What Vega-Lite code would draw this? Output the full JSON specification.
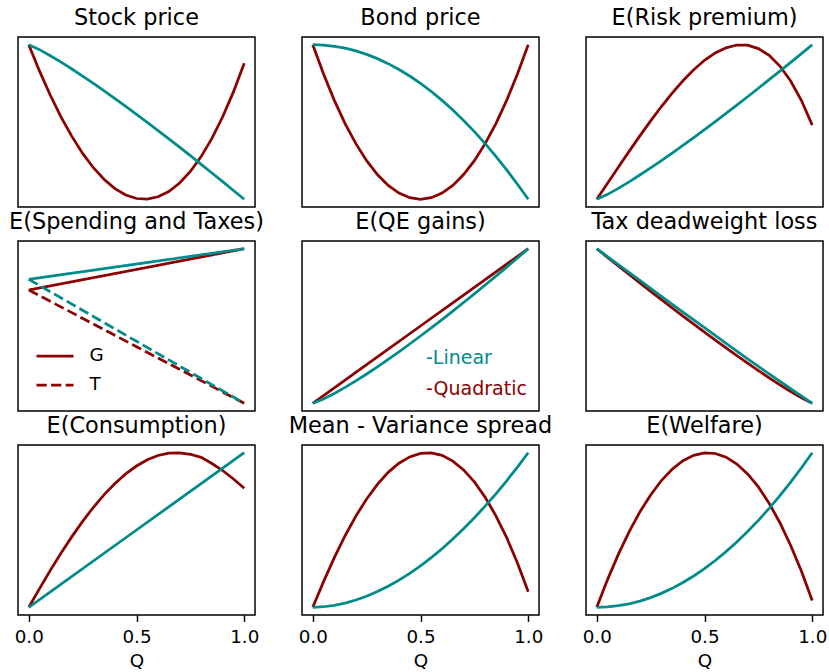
{
  "$schema": "https://vega.github.io/schema/vega-lite/v6.json",
  "padding": {"left": 8, "top": 5, "right": 5, "bottom": 5},
  "autosize": {"type": "pad"},
  "config": {
    "font": "DejaVu Sans",
    "view": {"stroke": "black", "strokeWidth": 1.47},
    "title": {"fontSize": 22.4, "fontWeight": "normal", "font": "DejaVu Sans", "color": "black", "baseline": "alphabetic", "offset": 8, "frame": "group", "anchor": "middle"},
    "axis": {"domain": false, "grid": false, "ticks": true, "tickColor": "black", "tickWidth": 1.47, "tickSize": 6.4, "labelFont": "DejaVu Sans", "labelFontSize": 18.3, "labelColor": "black", "labelPadding": 7, "labelFlush": false, "titleFont": "DejaVu Sans", "titleFontSize": 18.3, "titleFontWeight": "normal", "titleColor": "black", "titlePadding": 7},
    "legend": {"labelFont": "DejaVu Sans", "labelFontSize": 18.3},
    "line": {"strokeWidth": 2.75}
  },
  "datasets": {
    "stock": [
      {"m":"Quadratic","Q":0,"v":1},{"m":"Quadratic","Q":0.05,"v":0.829},{"m":"Quadratic","Q":0.1,"v":0.673},{"m":"Quadratic","Q":0.15,"v":0.532},{"m":"Quadratic","Q":0.2,"v":0.407},{"m":"Quadratic","Q":0.25,"v":0.297},{"m":"Quadratic","Q":0.3,"v":0.204},{"m":"Quadratic","Q":0.35,"v":0.128},{"m":"Quadratic","Q":0.4,"v":0.069},{"m":"Quadratic","Q":0.45,"v":0.028},{"m":"Quadratic","Q":0.5,"v":0.005},{"m":"Quadratic","Q":0.55,"v":0.001},{"m":"Quadratic","Q":0.6,"v":0.016},{"m":"Quadratic","Q":0.65,"v":0.05},{"m":"Quadratic","Q":0.7,"v":0.105},{"m":"Quadratic","Q":0.75,"v":0.18},{"m":"Quadratic","Q":0.8,"v":0.276},{"m":"Quadratic","Q":0.85,"v":0.394},{"m":"Quadratic","Q":0.9,"v":0.534},{"m":"Quadratic","Q":0.95,"v":0.695},{"m":"Quadratic","Q":1,"v":0.88},
      {"m":"Linear","Q":0,"v":1},{"m":"Linear","Q":0.05,"v":0.968},{"m":"Linear","Q":0.1,"v":0.929},{"m":"Linear","Q":0.15,"v":0.887},{"m":"Linear","Q":0.2,"v":0.843},{"m":"Linear","Q":0.25,"v":0.797},{"m":"Linear","Q":0.3,"v":0.75},{"m":"Linear","Q":0.35,"v":0.701},{"m":"Linear","Q":0.4,"v":0.651},{"m":"Linear","Q":0.45,"v":0.601},{"m":"Linear","Q":0.5,"v":0.549},{"m":"Linear","Q":0.55,"v":0.497},{"m":"Linear","Q":0.6,"v":0.444},{"m":"Linear","Q":0.65,"v":0.391},{"m":"Linear","Q":0.7,"v":0.337},{"m":"Linear","Q":0.75,"v":0.282},{"m":"Linear","Q":0.8,"v":0.226},{"m":"Linear","Q":0.85,"v":0.17},{"m":"Linear","Q":0.9,"v":0.114},{"m":"Linear","Q":0.95,"v":0.057},{"m":"Linear","Q":1,"v":0}
    ],
    "bond": [
      {"m":"Quadratic","Q":0,"v":1},{"m":"Quadratic","Q":0.05,"v":0.81},{"m":"Quadratic","Q":0.1,"v":0.64},{"m":"Quadratic","Q":0.15,"v":0.49},{"m":"Quadratic","Q":0.2,"v":0.36},{"m":"Quadratic","Q":0.25,"v":0.25},{"m":"Quadratic","Q":0.3,"v":0.16},{"m":"Quadratic","Q":0.35,"v":0.09},{"m":"Quadratic","Q":0.4,"v":0.04},{"m":"Quadratic","Q":0.45,"v":0.01},{"m":"Quadratic","Q":0.5,"v":0},{"m":"Quadratic","Q":0.55,"v":0.01},{"m":"Quadratic","Q":0.6,"v":0.04},{"m":"Quadratic","Q":0.65,"v":0.09},{"m":"Quadratic","Q":0.7,"v":0.16},{"m":"Quadratic","Q":0.75,"v":0.25},{"m":"Quadratic","Q":0.8,"v":0.36},{"m":"Quadratic","Q":0.85,"v":0.49},{"m":"Quadratic","Q":0.9,"v":0.64},{"m":"Quadratic","Q":0.95,"v":0.81},{"m":"Quadratic","Q":1,"v":1},
      {"m":"Linear","Q":0,"v":1},{"m":"Linear","Q":0.05,"v":0.9975},{"m":"Linear","Q":0.1,"v":0.99},{"m":"Linear","Q":0.15,"v":0.9775},{"m":"Linear","Q":0.2,"v":0.96},{"m":"Linear","Q":0.25,"v":0.9375},{"m":"Linear","Q":0.3,"v":0.91},{"m":"Linear","Q":0.35,"v":0.8775},{"m":"Linear","Q":0.4,"v":0.84},{"m":"Linear","Q":0.45,"v":0.7975},{"m":"Linear","Q":0.5,"v":0.75},{"m":"Linear","Q":0.55,"v":0.6975},{"m":"Linear","Q":0.6,"v":0.64},{"m":"Linear","Q":0.65,"v":0.5775},{"m":"Linear","Q":0.7,"v":0.51},{"m":"Linear","Q":0.75,"v":0.4375},{"m":"Linear","Q":0.8,"v":0.36},{"m":"Linear","Q":0.85,"v":0.2775},{"m":"Linear","Q":0.9,"v":0.19},{"m":"Linear","Q":0.95,"v":0.0975},{"m":"Linear","Q":1,"v":0}
    ],
    "rp": [
      {"m":"Quadratic","Q":0,"v":0},{"m":"Quadratic","Q":0.05,"v":0.104},{"m":"Quadratic","Q":0.1,"v":0.2075},{"m":"Quadratic","Q":0.15,"v":0.31},{"m":"Quadratic","Q":0.2,"v":0.41},{"m":"Quadratic","Q":0.25,"v":0.5075},{"m":"Quadratic","Q":0.3,"v":0.6},{"m":"Quadratic","Q":0.35,"v":0.687},{"m":"Quadratic","Q":0.4,"v":0.767},{"m":"Quadratic","Q":0.45,"v":0.838},{"m":"Quadratic","Q":0.5,"v":0.899},{"m":"Quadratic","Q":0.55,"v":0.947},{"m":"Quadratic","Q":0.6,"v":0.98},{"m":"Quadratic","Q":0.65,"v":0.998},{"m":"Quadratic","Q":0.7,"v":0.997},{"m":"Quadratic","Q":0.75,"v":0.975},{"m":"Quadratic","Q":0.8,"v":0.931},{"m":"Quadratic","Q":0.85,"v":0.862},{"m":"Quadratic","Q":0.9,"v":0.765},{"m":"Quadratic","Q":0.95,"v":0.639},{"m":"Quadratic","Q":1,"v":0.48},
      {"m":"Linear","Q":0,"v":0},{"m":"Linear","Q":0.05,"v":0.0319},{"m":"Linear","Q":0.1,"v":0.0708},{"m":"Linear","Q":0.15,"v":0.1128},{"m":"Linear","Q":0.2,"v":0.1571},{"m":"Linear","Q":0.25,"v":0.2031},{"m":"Linear","Q":0.3,"v":0.2504},{"m":"Linear","Q":0.35,"v":0.299},{"m":"Linear","Q":0.4,"v":0.3487},{"m":"Linear","Q":0.45,"v":0.3992},{"m":"Linear","Q":0.5,"v":0.4506},{"m":"Linear","Q":0.55,"v":0.5028},{"m":"Linear","Q":0.6,"v":0.5557},{"m":"Linear","Q":0.65,"v":0.6093},{"m":"Linear","Q":0.7,"v":0.6635},{"m":"Linear","Q":0.75,"v":0.7183},{"m":"Linear","Q":0.8,"v":0.7737},{"m":"Linear","Q":0.85,"v":0.8295},{"m":"Linear","Q":0.9,"v":0.8859},{"m":"Linear","Q":0.95,"v":0.9427},{"m":"Linear","Q":1,"v":1}
    ],
    "gt": [
      {"m":"Quadratic","s":"G","Q":0,"v":0.733},{"m":"Quadratic","s":"G","Q":0.5,"v":0.866},{"m":"Quadratic","s":"G","Q":1,"v":1},
      {"m":"Quadratic","s":"T","Q":0,"v":0.733},{"m":"Quadratic","s":"T","Q":0.5,"v":0.366},{"m":"Quadratic","s":"T","Q":1,"v":0},
      {"m":"Linear","s":"G","Q":0,"v":0.802},{"m":"Linear","s":"G","Q":0.5,"v":0.901},{"m":"Linear","s":"G","Q":1,"v":1},
      {"m":"Linear","s":"T","Q":0,"v":0.802},{"m":"Linear","s":"T","Q":0.5,"v":0.401},{"m":"Linear","s":"T","Q":1,"v":0}
    ],
    "qe": [
      {"m":"Quadratic","Q":0,"v":0},{"m":"Quadratic","Q":0.25,"v":0.25},{"m":"Quadratic","Q":0.5,"v":0.5},{"m":"Quadratic","Q":0.75,"v":0.75},{"m":"Quadratic","Q":1,"v":1},
      {"m":"Linear","Q":0,"v":0},{"m":"Linear","Q":0.05,"v":0.0275},{"m":"Linear","Q":0.1,"v":0.0631},{"m":"Linear","Q":0.15,"v":0.1026},{"m":"Linear","Q":0.2,"v":0.145},{"m":"Linear","Q":0.25,"v":0.1895},{"m":"Linear","Q":0.3,"v":0.2358},{"m":"Linear","Q":0.35,"v":0.2837},{"m":"Linear","Q":0.4,"v":0.333},{"m":"Linear","Q":0.45,"v":0.3836},{"m":"Linear","Q":0.5,"v":0.4353},{"m":"Linear","Q":0.55,"v":0.488},{"m":"Linear","Q":0.6,"v":0.5417},{"m":"Linear","Q":0.65,"v":0.5963},{"m":"Linear","Q":0.7,"v":0.6518},{"m":"Linear","Q":0.75,"v":0.7081},{"m":"Linear","Q":0.8,"v":0.7651},{"m":"Linear","Q":0.85,"v":0.8228},{"m":"Linear","Q":0.9,"v":0.8812},{"m":"Linear","Q":0.95,"v":0.9403},{"m":"Linear","Q":1,"v":1}
    ],
    "dwl": [
      {"m":"Quadratic","Q":0,"v":1},{"m":"Quadratic","Q":0.05,"v":0.9442},{"m":"Quadratic","Q":0.1,"v":0.8887},{"m":"Quadratic","Q":0.15,"v":0.8336},{"m":"Quadratic","Q":0.2,"v":0.7789},{"m":"Quadratic","Q":0.25,"v":0.7245},{"m":"Quadratic","Q":0.3,"v":0.6707},{"m":"Quadratic","Q":0.35,"v":0.6172},{"m":"Quadratic","Q":0.4,"v":0.5644},{"m":"Quadratic","Q":0.45,"v":0.5119},{"m":"Quadratic","Q":0.5,"v":0.4601},{"m":"Quadratic","Q":0.55,"v":0.4089},{"m":"Quadratic","Q":0.6,"v":0.3584},{"m":"Quadratic","Q":0.65,"v":0.3086},{"m":"Quadratic","Q":0.7,"v":0.2596},{"m":"Quadratic","Q":0.75,"v":0.2117},{"m":"Quadratic","Q":0.8,"v":0.1649},{"m":"Quadratic","Q":0.85,"v":0.1195},{"m":"Quadratic","Q":0.9,"v":0.0759},{"m":"Quadratic","Q":0.95,"v":0.0349},{"m":"Quadratic","Q":1,"v":0},
      {"m":"Linear","Q":0,"v":1},{"m":"Linear","Q":0.1,"v":0.897},{"m":"Linear","Q":0.2,"v":0.795},{"m":"Linear","Q":0.3,"v":0.692},{"m":"Linear","Q":0.4,"v":0.59},{"m":"Linear","Q":0.5,"v":0.489},{"m":"Linear","Q":0.6,"v":0.388},{"m":"Linear","Q":0.7,"v":0.287},{"m":"Linear","Q":0.8,"v":0.19},{"m":"Linear","Q":0.9,"v":0.094},{"m":"Linear","Q":1,"v":0}
    ],
    "cons": [
      {"m":"Quadratic","Q":0,"v":0},{"m":"Quadratic","Q":0.05,"v":0.121},{"m":"Quadratic","Q":0.1,"v":0.2385},{"m":"Quadratic","Q":0.15,"v":0.351},{"m":"Quadratic","Q":0.2,"v":0.457},{"m":"Quadratic","Q":0.25,"v":0.556},{"m":"Quadratic","Q":0.3,"v":0.647},{"m":"Quadratic","Q":0.35,"v":0.729},{"m":"Quadratic","Q":0.4,"v":0.801},{"m":"Quadratic","Q":0.45,"v":0.863},{"m":"Quadratic","Q":0.5,"v":0.914},{"m":"Quadratic","Q":0.55,"v":0.954},{"m":"Quadratic","Q":0.6,"v":0.982},{"m":"Quadratic","Q":0.65,"v":0.997},{"m":"Quadratic","Q":0.7,"v":0.999},{"m":"Quadratic","Q":0.75,"v":0.99},{"m":"Quadratic","Q":0.8,"v":0.97},{"m":"Quadratic","Q":0.85,"v":0.93},{"m":"Quadratic","Q":0.9,"v":0.885},{"m":"Quadratic","Q":0.95,"v":0.83},{"m":"Quadratic","Q":1,"v":0.77},
      {"m":"Linear","Q":0,"v":0},{"m":"Linear","Q":0.5,"v":0.5},{"m":"Linear","Q":1,"v":1}
    ],
    "mv": [
      {"m":"Quadratic","Q":0,"v":0},{"m":"Quadratic","Q":0.05,"v":0.166},{"m":"Quadratic","Q":0.1,"v":0.321},{"m":"Quadratic","Q":0.15,"v":0.463},{"m":"Quadratic","Q":0.2,"v":0.59},{"m":"Quadratic","Q":0.25,"v":0.701},{"m":"Quadratic","Q":0.3,"v":0.795},{"m":"Quadratic","Q":0.35,"v":0.873},{"m":"Quadratic","Q":0.4,"v":0.932},{"m":"Quadratic","Q":0.45,"v":0.973},{"m":"Quadratic","Q":0.5,"v":0.996},{"m":"Quadratic","Q":0.55,"v":0.999},{"m":"Quadratic","Q":0.6,"v":0.983},{"m":"Quadratic","Q":0.65,"v":0.946},{"m":"Quadratic","Q":0.7,"v":0.889},{"m":"Quadratic","Q":0.75,"v":0.811},{"m":"Quadratic","Q":0.8,"v":0.712},{"m":"Quadratic","Q":0.85,"v":0.592},{"m":"Quadratic","Q":0.9,"v":0.451},{"m":"Quadratic","Q":0.95,"v":0.287},{"m":"Quadratic","Q":1,"v":0.101},
      {"m":"Linear","Q":0,"v":0},{"m":"Linear","Q":0.05,"v":0.0034},{"m":"Linear","Q":0.1,"v":0.0126},{"m":"Linear","Q":0.15,"v":0.0272},{"m":"Linear","Q":0.2,"v":0.047},{"m":"Linear","Q":0.25,"v":0.0718},{"m":"Linear","Q":0.3,"v":0.1015},{"m":"Linear","Q":0.35,"v":0.1361},{"m":"Linear","Q":0.4,"v":0.1754},{"m":"Linear","Q":0.45,"v":0.2193},{"m":"Linear","Q":0.5,"v":0.268},{"m":"Linear","Q":0.55,"v":0.3212},{"m":"Linear","Q":0.6,"v":0.3789},{"m":"Linear","Q":0.65,"v":0.4411},{"m":"Linear","Q":0.7,"v":0.5078},{"m":"Linear","Q":0.75,"v":0.5789},{"m":"Linear","Q":0.8,"v":0.6545},{"m":"Linear","Q":0.85,"v":0.7343},{"m":"Linear","Q":0.9,"v":0.8186},{"m":"Linear","Q":0.95,"v":0.9071},{"m":"Linear","Q":1,"v":1}
    ],
    "welfare": [
      {"m":"Quadratic","Q":0,"v":0},{"m":"Quadratic","Q":0.05,"v":0.179},{"m":"Quadratic","Q":0.1,"v":0.342},{"m":"Quadratic","Q":0.15,"v":0.488},{"m":"Quadratic","Q":0.2,"v":0.617},{"m":"Quadratic","Q":0.25,"v":0.727},{"m":"Quadratic","Q":0.3,"v":0.82},{"m":"Quadratic","Q":0.35,"v":0.893},{"m":"Quadratic","Q":0.4,"v":0.948},{"m":"Quadratic","Q":0.45,"v":0.983},{"m":"Quadratic","Q":0.5,"v":0.999},{"m":"Quadratic","Q":0.55,"v":0.995},{"m":"Quadratic","Q":0.6,"v":0.971},{"m":"Quadratic","Q":0.65,"v":0.927},{"m":"Quadratic","Q":0.7,"v":0.863},{"m":"Quadratic","Q":0.75,"v":0.779},{"m":"Quadratic","Q":0.8,"v":0.673},{"m":"Quadratic","Q":0.85,"v":0.547},{"m":"Quadratic","Q":0.9,"v":0.4},{"m":"Quadratic","Q":0.95,"v":0.233},{"m":"Quadratic","Q":1,"v":0.044},
      {"m":"Linear","Q":0,"v":0},{"m":"Linear","Q":0.05,"v":0.0025},{"m":"Linear","Q":0.1,"v":0.01},{"m":"Linear","Q":0.15,"v":0.0225},{"m":"Linear","Q":0.2,"v":0.04},{"m":"Linear","Q":0.25,"v":0.0625},{"m":"Linear","Q":0.3,"v":0.09},{"m":"Linear","Q":0.35,"v":0.1225},{"m":"Linear","Q":0.4,"v":0.16},{"m":"Linear","Q":0.45,"v":0.2025},{"m":"Linear","Q":0.5,"v":0.25},{"m":"Linear","Q":0.55,"v":0.3025},{"m":"Linear","Q":0.6,"v":0.36},{"m":"Linear","Q":0.65,"v":0.4225},{"m":"Linear","Q":0.7,"v":0.49},{"m":"Linear","Q":0.75,"v":0.5625},{"m":"Linear","Q":0.8,"v":0.64},{"m":"Linear","Q":0.85,"v":0.7225},{"m":"Linear","Q":0.9,"v":0.81},{"m":"Linear","Q":0.95,"v":0.9025},{"m":"Linear","Q":1,"v":1}
    ]
  },
  "columns": 3,
  "spacing": {"row": 34, "column": 47},
  "bounds": "flush",
  "resolve": {
    "scale": {"color": "independent", "strokeDash": "independent"},
    "legend": {"color": "independent", "strokeDash": "independent"}
  },
  "concat": [
    {
      "title": "Stock price", "width": 237, "height": 170,
      "data": {"name": "stock"},
      "mark": {"type": "line", "strokeWidth": 2.75},
      "encoding": {
        "x": {"field": "Q", "type": "quantitative", "scale": {"domain": [-0.05, 1.05], "nice": false, "zero": false}, "axis": null},
        "y": {"field": "v", "type": "quantitative", "scale": {"domain": [-0.05, 1.05], "nice": false, "zero": false}, "axis": null},
        "color": {"field": "m", "type": "nominal", "scale": {"domain": ["Linear", "Quadratic"], "range": ["#008b8b", "#8b0000"]}, "legend": null}
      }
    },
    {
      "title": "Bond price", "width": 237, "height": 170,
      "data": {"name": "bond"},
      "mark": {"type": "line", "strokeWidth": 2.75},
      "encoding": {
        "x": {"field": "Q", "type": "quantitative", "scale": {"domain": [-0.05, 1.05], "nice": false, "zero": false}, "axis": null},
        "y": {"field": "v", "type": "quantitative", "scale": {"domain": [-0.05, 1.05], "nice": false, "zero": false}, "axis": null},
        "color": {"field": "m", "type": "nominal", "scale": {"domain": ["Linear", "Quadratic"], "range": ["#008b8b", "#8b0000"]}, "legend": null}
      }
    },
    {
      "title": "E(Risk premium)", "width": 237, "height": 170,
      "data": {"name": "rp"},
      "mark": {"type": "line", "strokeWidth": 2.75},
      "encoding": {
        "x": {"field": "Q", "type": "quantitative", "scale": {"domain": [-0.05, 1.05], "nice": false, "zero": false}, "axis": null},
        "y": {"field": "v", "type": "quantitative", "scale": {"domain": [-0.05, 1.05], "nice": false, "zero": false}, "axis": null},
        "color": {"field": "m", "type": "nominal", "scale": {"domain": ["Linear", "Quadratic"], "range": ["#008b8b", "#8b0000"]}, "legend": null}
      }
    },
    {
      "title": "E(Spending and Taxes)", "width": 237, "height": 170,
      "data": {"name": "gt"},
      "mark": {"type": "line", "strokeWidth": 2.75},
      "encoding": {
        "x": {"field": "Q", "type": "quantitative", "scale": {"domain": [-0.05, 1.05], "nice": false, "zero": false}, "axis": null},
        "y": {"field": "v", "type": "quantitative", "scale": {"domain": [-0.05, 1.05], "nice": false, "zero": false}, "axis": null},
        "color": {"field": "m", "type": "nominal", "scale": {"domain": ["Linear", "Quadratic"], "range": ["#008b8b", "#8b0000"]}, "legend": null},
        "strokeDash": {"field": "s", "type": "nominal", "scale": {"domain": ["G", "T"], "range": [[1, 0], [10.2, 4.4]]},
          "legend": {"title": null, "orient": "bottom-left", "offset": 17, "padding": 0, "symbolType": "stroke", "symbolStrokeColor": "#8b0000", "symbolStrokeWidth": 2.75, "symbolSize": 1369, "labelOffset": 14.6, "labelFontSize": 18.3, "labelColor": "black", "rowPadding": -5}}
      }
    },
    {
      "title": "E(QE gains)", "width": 237, "height": 170,
      "data": {"name": "qe"},
      "mark": {"type": "line", "strokeWidth": 2.75},
      "encoding": {
        "x": {"field": "Q", "type": "quantitative", "scale": {"domain": [-0.05, 1.05], "nice": false, "zero": false}, "axis": null},
        "y": {"field": "v", "type": "quantitative", "scale": {"domain": [-0.05, 1.05], "nice": false, "zero": false}, "axis": null},
        "color": {"field": "m", "type": "nominal", "scale": {"domain": ["Linear", "Quadratic"], "range": ["#008b8b", "#8b0000"]},
          "legend": {"title": null, "orient": "bottom-right", "offset": 12, "padding": 0, "symbolSize": 0, "symbolOpacity": 0, "labelOffset": 0, "labelFontSize": 19, "rowPadding": 11.4, "labelExpr": "'-' + datum.label",
            "labelColor": {"expr": "datum.value === 'Linear' ? '#008b8b' : '#8b0000'"}}}
      }
    },
    {
      "title": "Tax deadweight loss", "width": 237, "height": 170,
      "data": {"name": "dwl"},
      "mark": {"type": "line", "strokeWidth": 2.75},
      "encoding": {
        "x": {"field": "Q", "type": "quantitative", "scale": {"domain": [-0.05, 1.05], "nice": false, "zero": false}, "axis": null},
        "y": {"field": "v", "type": "quantitative", "scale": {"domain": [-0.05, 1.05], "nice": false, "zero": false}, "axis": null},
        "color": {"field": "m", "type": "nominal", "scale": {"domain": ["Linear", "Quadratic"], "range": ["#008b8b", "#8b0000"]}, "legend": null}
      }
    },
    {
      "title": "E(Consumption)", "width": 237, "height": 170,
      "data": {"name": "cons"},
      "mark": {"type": "line", "strokeWidth": 2.75},
      "encoding": {
        "x": {"field": "Q", "type": "quantitative", "scale": {"domain": [-0.05, 1.05], "nice": false, "zero": false}, "axis": {"values": [0, 0.5, 1], "format": ".1f", "title": "Q"}},
        "y": {"field": "v", "type": "quantitative", "scale": {"domain": [-0.05, 1.05], "nice": false, "zero": false}, "axis": null},
        "color": {"field": "m", "type": "nominal", "scale": {"domain": ["Linear", "Quadratic"], "range": ["#008b8b", "#8b0000"]}, "legend": null}
      }
    },
    {
      "title": "Mean - Variance spread", "width": 237, "height": 170,
      "data": {"name": "mv"},
      "mark": {"type": "line", "strokeWidth": 2.75},
      "encoding": {
        "x": {"field": "Q", "type": "quantitative", "scale": {"domain": [-0.05, 1.05], "nice": false, "zero": false}, "axis": {"values": [0, 0.5, 1], "format": ".1f", "title": "Q"}},
        "y": {"field": "v", "type": "quantitative", "scale": {"domain": [-0.05, 1.05], "nice": false, "zero": false}, "axis": null},
        "color": {"field": "m", "type": "nominal", "scale": {"domain": ["Linear", "Quadratic"], "range": ["#008b8b", "#8b0000"]}, "legend": null}
      }
    },
    {
      "title": "E(Welfare)", "width": 237, "height": 170,
      "data": {"name": "welfare"},
      "mark": {"type": "line", "strokeWidth": 2.75},
      "encoding": {
        "x": {"field": "Q", "type": "quantitative", "scale": {"domain": [-0.05, 1.05], "nice": false, "zero": false}, "axis": {"values": [0, 0.5, 1], "format": ".1f", "title": "Q"}},
        "y": {"field": "v", "type": "quantitative", "scale": {"domain": [-0.05, 1.05], "nice": false, "zero": false}, "axis": null},
        "color": {"field": "m", "type": "nominal", "scale": {"domain": ["Linear", "Quadratic"], "range": ["#008b8b", "#8b0000"]}, "legend": null}
      }
    }
  ]
}
